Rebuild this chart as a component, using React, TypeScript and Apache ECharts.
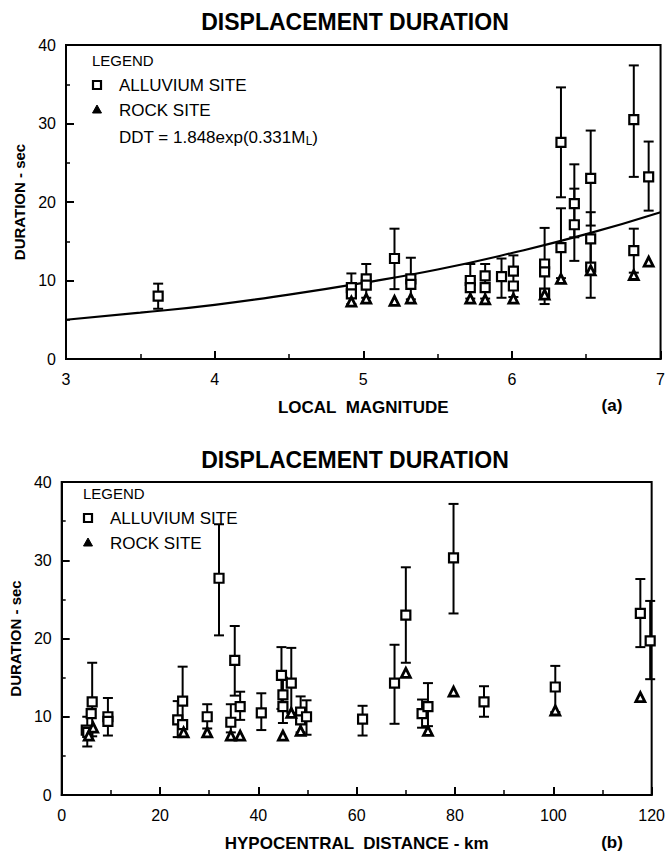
import React, { useEffect, useRef } from "react";
import * as echarts from "echarts";

// ---------- DATA ----------
// (a) Duration vs local magnitude
const MAG_ALLUVIUM: number[][] = [
  [3.62, 8.0], [4.92, 9.1], [4.92, 8.3], [5.02, 10.2], [5.02, 9.4],
  [5.21, 12.8], [5.32, 10.2], [5.32, 9.5], [5.72, 10.0], [5.72, 9.1],
  [5.82, 10.6], [5.82, 9.1], [5.93, 10.5], [6.01, 11.2], [6.01, 9.3],
  [6.22, 12.1], [6.22, 11.1], [6.22, 8.4], [6.33, 27.6], [6.33, 14.2],
  [6.42, 19.8], [6.42, 17.1], [6.53, 23.0], [6.53, 15.3], [6.53, 11.7],
  [6.82, 30.5], [6.82, 13.8], [6.92, 23.2],
];
const MAG_ROCK: number[][] = [
  [4.92, 7.3], [5.02, 7.7], [5.21, 7.4], [5.32, 7.7], [5.72, 7.7],
  [5.82, 7.6], [6.01, 7.7], [6.22, 8.2], [6.33, 10.2], [6.53, 11.3],
  [6.82, 10.7], [6.92, 12.4],
];
// [magnitude, low, high]
const MAG_ERRORS: number[][] = [
  [3.62, 6.4, 9.6], [4.92, 7.0, 10.9], [5.02, 7.8, 12.1], [5.21, 8.9, 16.6],
  [5.32, 7.6, 12.9], [5.72, 7.7, 12.1], [5.82, 7.7, 12.1], [5.93, 7.8, 12.8],
  [6.01, 7.9, 13.2], [6.22, 7.0, 16.7], [6.33, 20.6, 34.6], [6.33, 10.3, 19.2],
  [6.42, 15.5, 24.8], [6.42, 12.5, 21.7], [6.53, 17.0, 29.1], [6.53, 11.8, 18.7],
  [6.53, 7.8, 15.0], [6.82, 23.2, 37.4], [6.82, 11.0, 16.6], [6.92, 18.9, 27.7],
];
// regression curve DDT = 1.848exp(0.331 ML)
const MAG_FIT: number[][] = [
  [3.0, 5.0], [3.5, 5.9], [4.0, 6.9], [4.5, 8.2], [5.0, 9.7],
  [5.5, 11.4], [6.0, 13.5], [6.5, 15.9], [7.0, 18.7],
];

// (b) Duration vs hypocentral distance
const DIST_ALLUVIUM: number[][] = [
  [5.0, 8.3], [5.3, 8.0], [6.2, 11.9], [6.0, 10.4], [9.4, 10.0], [9.4, 9.4],
  [23.6, 9.6], [24.6, 12.0], [24.6, 9.0], [29.6, 10.0], [32.0, 27.7],
  [34.4, 9.3], [35.2, 17.2], [36.3, 11.3], [40.6, 10.5], [44.7, 15.3],
  [45.0, 12.8], [45.0, 11.3], [46.7, 14.3], [48.6, 10.6], [48.6, 9.6],
  [49.8, 10.0], [61.2, 9.7], [67.7, 14.3], [70.0, 23.0], [73.3, 10.4],
  [74.5, 11.3], [79.7, 30.3], [85.9, 11.9], [100.4, 13.8], [117.7, 23.2],
  [119.7, 19.7],
];
const DIST_ROCK: number[][] = [
  [5.5, 7.6], [6.4, 8.6], [24.8, 8.0], [29.6, 8.0], [34.4, 7.6], [36.3, 7.6],
  [45.0, 7.6], [46.7, 10.5], [48.6, 8.2], [70.0, 15.6], [74.5, 8.2],
  [79.7, 13.2], [100.4, 10.8], [117.7, 12.5],
];
// [distance, low, high]
const DIST_ERRORS: number[][] = [
  [5.2, 6.2, 10.0], [6.2, 7.5, 16.9], [9.4, 7.6, 12.4], [23.6, 7.4, 12.0],
  [24.6, 7.6, 16.4], [29.6, 8.5, 11.6], [32.0, 20.4, 34.6], [34.4, 8.0, 11.6],
  [35.2, 12.7, 21.6], [36.3, 9.6, 13.2], [40.6, 8.3, 13.0], [44.7, 11.0, 18.9],
  [45.0, 9.2, 15.0], [46.7, 10.5, 18.8], [48.6, 8.0, 12.6], [49.8, 7.7, 12.1],
  [61.2, 7.6, 11.4], [67.7, 9.1, 19.2], [70.0, 16.9, 29.1], [73.3, 8.6, 12.2],
  [74.5, 8.8, 14.3], [79.7, 23.2, 37.2], [85.9, 10.0, 13.9], [100.4, 10.6, 16.5],
  [117.7, 18.9, 27.6], [119.7, 14.8, 24.8],
];

const TITLE = "DISPLACEMENT DURATION";
const Y_NAME = "DURATION - sec";
const X_NAME_A = "LOCAL  MAGNITUDE";
const X_NAME_B = "HYPOCENTRAL  DISTANCE - km";
const LEGEND_TITLE = "LEGEND";
const ALLUVIUM = "ALLUVIUM SITE";
const ROCK = "ROCK SITE";

const FONT = "'Liberation Sans', Arial, Helvetica, sans-serif";
const BLACK = "#000";

function errorRender(params: any, api: any) {
  const x = api.value(0);
  const lo = api.value(1);
  const hi = api.value(2);
  const p1 = api.coord([x, lo]);
  const p2 = api.coord([x, hi]);
  const w = 5;
  const st = { stroke: BLACK, lineWidth: 2 };
  return {
    type: "group",
    children: [
      { type: "line", shape: { x1: p1[0], y1: p1[1], x2: p2[0], y2: p2[1] }, style: st },
      { type: "line", shape: { x1: p1[0] - w, y1: p1[1], x2: p1[0] + w, y2: p1[1] }, style: st },
      { type: "line", shape: { x1: p2[0] - w, y1: p2[1], x2: p2[0] + w, y2: p2[1] }, style: st },
    ],
  };
}

function xAxis(grid: number, min: number, max: number, interval: number, name: string) {
  return {
    type: "value",
    gridIndex: grid,
    min,
    max,
    interval,
    name,
    nameLocation: "middle",
    nameGap: 40,
    nameTextStyle: { color: BLACK, fontSize: 17, fontWeight: "bold", fontFamily: FONT },
    axisLine: { show: true, lineStyle: { color: BLACK, width: 2 } },
    axisTick: { show: true, inside: true, length: 8, lineStyle: { color: BLACK, width: 2 } },
    minorTick: { show: true, splitNumber: 2, length: 5, lineStyle: { color: BLACK, width: 1.5 } },
    splitLine: { show: false },
    axisLabel: { color: BLACK, fontSize: 16, fontFamily: FONT, margin: 12 },
  };
}

function yAxis(grid: number) {
  return {
    type: "value",
    gridIndex: grid,
    min: 0,
    max: 40,
    interval: 10,
    name: Y_NAME,
    nameLocation: "middle",
    nameGap: 38,
    nameRotate: 90,
    nameTextStyle: { color: BLACK, fontSize: 15, fontWeight: "bold", fontFamily: FONT },
    axisLine: { show: true, lineStyle: { color: BLACK, width: 2 } },
    axisTick: { show: true, inside: true, length: 8, lineStyle: { color: BLACK, width: 2 } },
    minorTick: { show: true, splitNumber: 2, length: 4, lineStyle: { color: BLACK, width: 1.5 } },
    splitLine: { show: false },
    axisLabel: { color: BLACK, fontSize: 16, fontFamily: FONT, margin: 10 },
  };
}

function squareSeries(grid: number, data: number[][]) {
  return {
    type: "scatter",
    name: ALLUVIUM,
    xAxisIndex: grid,
    yAxisIndex: grid,
    data,
    symbol: "rect",
    symbolSize: 9,
    itemStyle: { color: "#fff", borderColor: BLACK, borderWidth: 2.2, opacity: 1 },
    z: 4,
  };
}

function rockSeries(grid: number, data: number[][]) {
  return {
    type: "scatter",
    name: ROCK,
    xAxisIndex: grid,
    yAxisIndex: grid,
    data,
    symbol: "triangle",
    symbolSize: 9,
    itemStyle: { color: "#fff", borderColor: BLACK, borderWidth: 2.8, opacity: 1 },
    z: 5,
  };
}

function errSeries(grid: number, data: number[][]) {
  return {
    type: "custom",
    xAxisIndex: grid,
    yAxisIndex: grid,
    data,
    encode: { x: 0, y: [1, 2] },
    renderItem: errorRender,
    z: 3,
  };
}

function legendGraphics(x: number, y: number) {
  const t = (text: string, tx: number, ty: number, size = 17) => ({
    type: "text",
    x: tx,
    y: ty,
    style: { text, fill: BLACK, font: `${size}px ${FONT}`, textVerticalAlign: "middle", verticalAlign: "middle" },
  });
  return [
    t(LEGEND_TITLE, x, y, 15),
    {
      type: "rect",
      shape: { x: x + 1, y: y + 21, width: 8, height: 8 },
      style: { fill: "#fff", stroke: BLACK, lineWidth: 2.2 },
    },
    t(ALLUVIUM, x + 27, y + 25),
    {
      type: "polygon",
      shape: { points: [[x + 5, y + 45], [x + 0.5, y + 53], [x + 9.5, y + 53]] },
      style: { fill: BLACK, stroke: BLACK, lineWidth: 1 },
    },
    t(ROCK, x + 27, y + 50),
  ];
}

export default function App() {
  const ref = useRef<HTMLDivElement>(null);
  useEffect(() => {
    if (!ref.current) return;
    const chart = echarts.init(ref.current, null, { renderer: "svg" });
    const option: any = {
      animation: false,
      backgroundColor: "#fff",
      grid: [
        { left: 66, top: 45, width: 598, height: 314, show: true, borderColor: BLACK, borderWidth: 2, backgroundColor: "transparent" },
        { left: 60, top: 482, width: 599, height: 313, show: true, borderColor: BLACK, borderWidth: 2, backgroundColor: "transparent" },
      ],
      xAxis: [xAxis(0, 3, 7, 1, X_NAME_A), xAxis(1, 0, 120, 20, X_NAME_B)],
      yAxis: [yAxis(0), yAxis(1)],
      series: [
        errSeries(0, MAG_ERRORS),
        {
          type: "line",
          xAxisIndex: 0,
          yAxisIndex: 0,
          data: MAG_FIT,
          smooth: true,
          symbol: "none",
          lineStyle: { color: BLACK, width: 2.2 },
          z: 2,
        },
        squareSeries(0, MAG_ALLUVIUM),
        rockSeries(0, MAG_ROCK),
        errSeries(1, DIST_ERRORS),
        squareSeries(1, DIST_ALLUVIUM),
        rockSeries(1, DIST_ROCK),
      ],
      graphic: [
        {
          type: "text",
          x: 355,
          y: 22,
          style: { text: TITLE, fill: BLACK, font: `bold 23px ${FONT}`, textAlign: "center", textVerticalAlign: "middle", verticalAlign: "middle", align: "center" },
        },
        {
          type: "text",
          x: 355,
          y: 460,
          style: { text: TITLE, fill: BLACK, font: `bold 23px ${FONT}`, textAlign: "center", textVerticalAlign: "middle", verticalAlign: "middle", align: "center" },
        },
        ...legendGraphics(92, 60),
        {
          type: "text",
          x: 119,
          y: 137,
          style: {
            text: "{a|DDT = 1.848exp(0.331M}{b|L}{a|)}",
            verticalAlign: "middle",
            textVerticalAlign: "middle",
            rich: {
              a: { fontSize: 17, fontFamily: FONT, fill: BLACK, color: BLACK, lineHeight: 20, verticalAlign: "middle" },
              b: { fontSize: 12, fontFamily: FONT, fill: BLACK, color: BLACK, lineHeight: 20, verticalAlign: "bottom" },
            },
          },
        },
        ...legendGraphics(83, 493),
        {
          type: "text",
          x: 612,
          y: 405,
          style: { text: "(a)", fill: BLACK, font: `bold 17px ${FONT}`, textAlign: "center", align: "center", textVerticalAlign: "middle", verticalAlign: "middle" },
        },
        {
          type: "text",
          x: 612,
          y: 842,
          style: { text: "(b)", fill: BLACK, font: `bold 17px ${FONT}`, textAlign: "center", align: "center", textVerticalAlign: "middle", verticalAlign: "middle" },
        },
      ],
    };
    chart.setOption(option);
    return () => chart.dispose();
  }, []);
  return (
    <div
      ref={ref}
      style={{ position: "fixed", left: 0, top: 0, width: 668, height: 856, background: "#fff" }}
    />
  );
}
